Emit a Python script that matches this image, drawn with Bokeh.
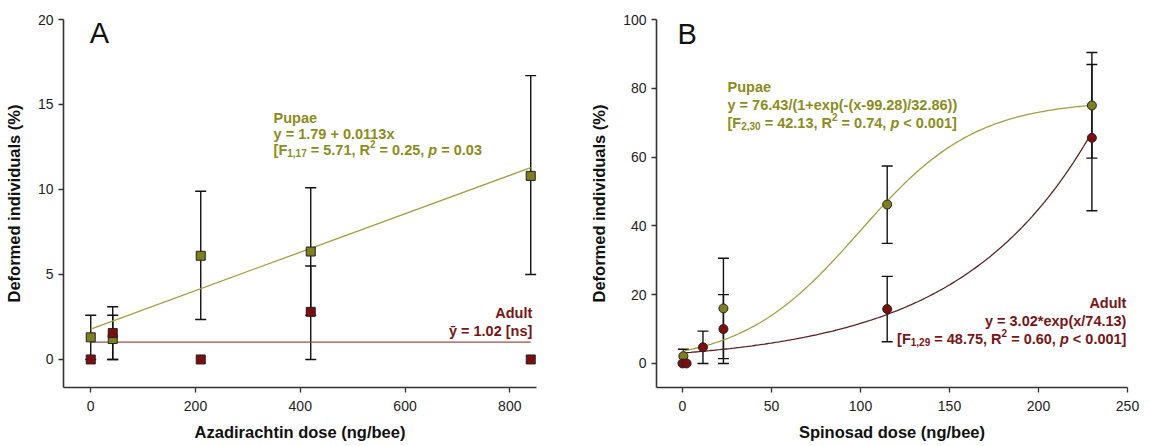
import numpy as np
from bokeh.plotting import figure
from bokeh.layouts import row
from bokeh.models import ColumnDataSource, Whisker, TeeHead, FixedTicker, Range1d
from bokeh.core.properties import value
from bokeh.embed import file_html
from bokeh.resources import INLINE

# ---------------- data: panel A (azadirachtin) ----------------
aza_dose = [0, 42, 210, 420, 840]
aza_pupae = [1.3, 1.2, 6.1, 6.35, 10.8]
aza_pupae_lo = [0.0, 0.0, 2.35, 2.6, 5.0]
aza_pupae_hi = [2.6, 2.6, 9.9, 10.1, 16.7]
aza_adult = [0.0, 1.55, 0.0, 2.8, 0.0]
aza_adult_err_dose = [42, 420]
aza_adult_lo = [0.0, 0.0]
aza_adult_hi = [3.1, 5.5]
aza_pupae_fit = (1.79, 0.0113)   # y = a + b x
aza_adult_mean = 1.02
aza_xticks = [0, 200, 400, 600, 800]
aza_yticks = [0, 5, 10, 15, 20]

# ---------------- data: panel B (spinosad) ----------------
spi_pupae_dose = [0.5, 23, 115, 230]
spi_pupae = [2.1, 16.0, 46.2, 75.0]
spi_pupae_lo = [0.1, 1.4, 34.9, 59.7]
spi_pupae_hi = [4.1, 30.6, 57.4, 90.4]
spi_adult_dose = [0, 2.3, 11.5, 23, 115, 230]
spi_adult = [0.0, 0.0, 4.7, 10.0, 15.8, 65.6]
spi_adult_err_dose = [11.5, 23, 115, 230]
spi_adult_lo = [0.0, 0.0, 6.3, 44.4]
spi_adult_hi = [9.4, 20.0, 25.3, 86.9]
spi_pupae_fit = (76.43, 99.28, 32.86)  # a/(1+exp(-(x-x0)/b))
spi_adult_fit = (3.02, 74.13)          # a*exp(x/b)
spi_xticks = [0, 50, 100, 150, 200, 250]
spi_yticks = [0, 20, 40, 60, 80, 100]

# ---------------- styles ----------------
FONT = "Liberation Sans"
OLIVE_TEXT = "#8c8c1c"
OLIVE_FILL = "#7f7f22"
OLIVE_LINE = "#a0a040"
RED_TEXT = "#7a1515"
RED_FILL = "#7b0e0e"
RED_LINE_A = "#a94a4a"
RED_LINE_B = "#5e2222"
AXIS = "#333333"
ANN = 14.5   # annotation font px
SUB = 10
NB = "\u00a0"

# Arial / Liberation Sans Bold advance widths (per 1000 em)
W = {" ": 278, NB: 278, "!": 333, "(": 333, ")": 333, "*": 389, "+": 584, ",": 278, "-": 333,
     ".": 278, "/": 278, ":": 333, "<": 584, "=": 584, ">": 584, "[": 333, "]": 333,
     "A": 722, "F": 611, "R": 722, "P": 667,
     "a": 556, "b": 611, "c": 556, "d": 611, "e": 556, "f": 333, "g": 611, "h": 611,
     "i": 278, "l": 278, "m": 889, "n": 611, "o": 611, "p": 611, "r": 389, "s": 556,
     "t": 333, "u": 611, "x": 556, "y": 556, "\u0233": 556}
for d in "0123456789":
    W[d] = 556


def seg_width(txt, size):
    return sum(W.get(c, 556) for c in txt) * size / 1000.0


def keep_spaces(t):
    # SVG collapses leading/trailing blanks: protect them
    n_lead = len(t) - len(t.lstrip(" "))
    n_trail = len(t) - len(t.rstrip(" "))
    core = t.strip(" ")
    return NB * n_lead + core + NB * n_trail


def rich_text(p, x, y, segments, color, align="left"):
    """segments: list of (text, kind) with kind in n / sub / sup / it"""
    sizes = {"n": ANN, "it": ANN, "sub": SUB, "sup": SUB}
    yoffs = {"n": 5, "it": 5, "sub": 8, "sup": -1}
    total = sum(seg_width(t, sizes[k]) for t, k in segments)
    off = -total if align == "right" else 0.0
    for t, k in segments:
        p.text(x=[x], y=[y], text=[keep_spaces(t)], x_offset=off, y_offset=yoffs[k],
               text_font=value(FONT), text_font_size=f"{sizes[k]}px",
               text_font_style="bold italic" if k == "it" else "bold",
               text_color=color, text_align="left", text_baseline="alphabetic")
        off += seg_width(t, sizes[k])


def style(p, xlabel, ylabel, xticks, yticks):
    p.xgrid.visible = False
    p.ygrid.visible = False
    p.outline_line_color = None
    p.background_fill_color = "white"
    p.border_fill_color = "white"
    for ax, lab, ticks in ((p.xaxis[0], xlabel, xticks), (p.yaxis[0], ylabel, yticks)):
        ax.ticker = FixedTicker(ticks=ticks)
        ax.axis_label = lab
        ax.axis_label_text_font = FONT
        ax.axis_label_text_font_style = "bold"
        ax.axis_label_text_font_size = "16.5px"
        ax.axis_label_text_color = "#111111"
        ax.major_label_text_font = FONT
        ax.major_label_text_font_size = "14px"
        ax.major_label_text_color = "#222222"
        ax.axis_line_color = AXIS
        ax.axis_line_width = 1.6
        ax.major_tick_line_color = AXIS
        ax.major_tick_line_width = 1.3
        ax.major_tick_out = 5
        ax.major_tick_in = 0
        ax.minor_tick_line_color = None
    p.xaxis[0].major_label_standoff = 8
    p.xaxis[0].axis_label_standoff = 9
    p.yaxis[0].major_label_standoff = 5
    p.yaxis[0].axis_label_standoff = 12


def whisker(p, base, lo, hi):
    src = ColumnDataSource(dict(base=base, lo=lo, hi=hi))
    w = Whisker(base="base", lower="lo", upper="hi", source=src,
                line_color="#111111", line_width=1.4, level="underlay",
                upper_head=TeeHead(size=11, line_color="#111111", line_width=1.4),
                lower_head=TeeHead(size=11, line_color="#111111", line_width=1.4))
    p.add_layout(w)


# ================= Panel A =================
pa = figure(width=575, height=446, output_backend="svg", toolbar_location=None,
            x_range=Range1d(-52, 851), y_range=Range1d(-1.65, 20),
            min_border_left=63, min_border_right=39, min_border_top=19,
            min_border_bottom=59)
style(pa, "Azadirachtin dose (ng/bee)", "Deformed individuals (%)", aza_xticks, aza_yticks)

xa = np.array([aza_dose[0], aza_dose[-1]], dtype=float)
pa.line(xa, aza_pupae_fit[0] + aza_pupae_fit[1] * xa, line_color=OLIVE_LINE, line_width=1.3)
pa.line(xa, [aza_adult_mean, aza_adult_mean], line_color=RED_LINE_A, line_width=1.3)
whisker(pa, aza_dose, aza_pupae_lo, aza_pupae_hi)
whisker(pa, aza_adult_err_dose, aza_adult_lo, aza_adult_hi)
pa.scatter(aza_dose, aza_pupae, marker="square", size=9, fill_color=OLIVE_FILL,
           line_color="#222222", line_width=1)
pa.scatter(aza_dose, aza_adult, marker="square", size=9, fill_color=RED_FILL,
           line_color="#222222", line_width=1)

pa.text(x=[0], y=[19.2], text=["A"], text_font=value(FONT), text_font_size="29px",
        text_color="#111111", text_align="left", text_baseline="middle", x_offset=-1)

rich_text(pa, 349, 14.47, [("Pupae", "n")], OLIVE_TEXT)
rich_text(pa, 349, 13.55, [("y = 1.79 + 0.0113x", "n")], OLIVE_TEXT)
rich_text(pa, 349, 12.6, [("[F", "n"), ("1,17", "sub"), (" = 5.71, R", "n"), ("2", "sup"),
                          (" = 0.25, ", "n"), ("p", "it"), (" = 0.03", "n")], OLIVE_TEXT)
rich_text(pa, 843, 3.0, [("Adult", "n")], RED_TEXT, align="right")
rich_text(pa, 843, 1.95, [("\u0233 = 1.02 [ns]", "n")], RED_TEXT, align="right")

# ================= Panel B =================
pb = figure(width=575, height=446, output_backend="svg", toolbar_location=None,
            x_range=Range1d(-14.6, 250), y_range=Range1d(-7, 100),
            min_border_left=81, min_border_right=23, min_border_top=19,
            min_border_bottom=59)
style(pb, "Spinosad dose (ng/bee)", "Deformed individuals (%)", spi_xticks, spi_yticks)

xb = np.linspace(0, spi_adult_dose[-1], 200)
a, x0, b = spi_pupae_fit
pb.line(xb, a / (1 + np.exp(-(xb - x0) / b)), line_color=OLIVE_LINE, line_width=1.3)
pb.line(xb, spi_adult_fit[0] * np.exp(xb / spi_adult_fit[1]), line_color=RED_LINE_B, line_width=1.3)
whisker(pb, spi_pupae_dose, spi_pupae_lo, spi_pupae_hi)
whisker(pb, spi_adult_err_dose, spi_adult_lo, spi_adult_hi)
pb.scatter(spi_pupae_dose, spi_pupae, marker="circle", size=9, fill_color=OLIVE_FILL,
           line_color="#222222", line_width=1)
pb.scatter(spi_adult_dose, spi_adult, marker="circle", size=9, fill_color=RED_FILL,
           line_color="#222222", line_width=1)

pb.text(x=[0], y=[95.8], text=["B"], text_font=value(FONT), text_font_size="29px",
        text_color="#111111", text_align="left", text_baseline="middle", x_offset=-5)

rich_text(pb, 25.3, 81.7, [("Pupae", "n")], OLIVE_TEXT)
rich_text(pb, 25.3, 76.6, [("y = 76.43/(1+exp(-(x-99.28)/32.86))", "n")], OLIVE_TEXT)
rich_text(pb, 25.3, 71.5, [("[F", "n"), ("2,30", "sub"), (" = 42.13, R", "n"), ("2", "sup"),
                           (" = 0.74, ", "n"), ("p", "it"), (" < 0.001]", "n")], OLIVE_TEXT)
rich_text(pb, 249.4, 18.9, [("Adult", "n")], RED_TEXT, align="right")
rich_text(pb, 249.4, 13.7, [("y = 3.02*exp(x/74.13)", "n")], RED_TEXT, align="right")
rich_text(pb, 249.4, 8.5, [("[F", "n"), ("1,29", "sub"), (" = 48.75, R", "n"), ("2", "sup"),
                           (" = 0.60, ", "n"), ("p", "it"), (" < 0.001]", "n")], RED_TEXT, align="right")

layout = row(pa, pb)
open("out.html", "w").write(file_html(layout, INLINE))
